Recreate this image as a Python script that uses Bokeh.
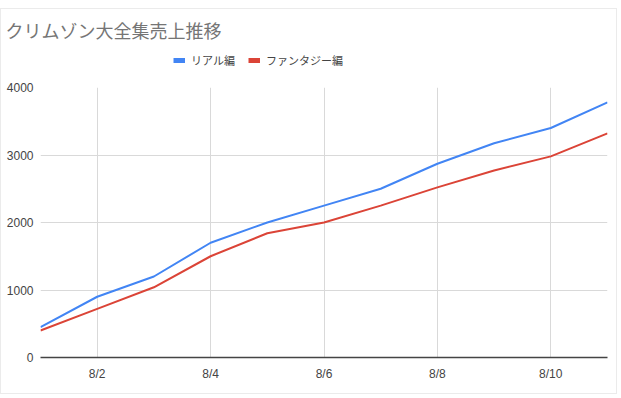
from bokeh.plotting import figure
from bokeh.models import Range1d, FixedTicker, Legend, LegendItem
from bokeh.layouts import column
from bokeh.embed import file_html
from bokeh.resources import INLINE

days = [1, 2, 3, 4, 5, 6, 7, 8, 9, 10, 11]
tick_days = [2, 4, 6, 8, 10]
tick_labels = ["8/2", "8/4", "8/6", "8/8", "8/10"]
y_ticks = [0, 1000, 2000, 3000, 4000]
real = [450, 900, 1200, 1700, 2000, 2250, 2500, 2870, 3175, 3400, 3780]
fantasy = [400, 720, 1040, 1500, 1840, 2000, 2250, 2520, 2770, 2980, 3320]
series_names = ["リアル編", "ファンタジー編"]
title_text = "クリムゾン大全集売上推移"
colors = ["#4285F4", "#DB4437"]

W = 615

# header: title + legend (series lines lie outside this header's y-range, only legend glyphs show)
top = figure(width=W, height=73, output_backend="svg", toolbar_location=None,
             x_range=Range1d(1, 11), y_range=Range1d(-2, -1),
             min_border_left=39, min_border_right=9, min_border_top=37, min_border_bottom=0,
             x_axis_type=None, y_axis_type=None, title=title_text)
top.outline_line_color = None
top.xgrid.visible = False
top.ygrid.visible = False
top.title.text_font = "Noto Sans CJK JP"
top.title.text_font_size = "18px"
top.title.text_font_style = "normal"
top.title.text_color = "#757575"
top.title.align = "left"
top.title.offset = -35
l1 = top.line(days, real, line_color=colors[0], line_width=5)
l2 = top.line(days, fantasy, line_color=colors[1], line_width=5)
legend = Legend(items=[LegendItem(label=series_names[0], renderers=[l1]),
                       LegendItem(label=series_names[1], renderers=[l2])],
                orientation="horizontal", location=(133, 14),
                glyph_width=12, glyph_height=14, label_height=14,
                spacing=13, label_standoff=6,
                label_text_font="Noto Sans CJK JP", label_text_font_size="11px",
                label_text_color="#444444", label_text_baseline="middle",
                border_line_color=None, background_fill_alpha=0,
                padding=0, margin=0)
top.add_layout(legend, "center")

# main chart
p = figure(width=W, height=311, output_backend="svg", toolbar_location=None,
           x_range=Range1d(1, 11), y_range=Range1d(0, 4000),
           min_border_left=39, min_border_right=9, min_border_top=5, min_border_bottom=36)
p.outline_line_color = None
p.xaxis.ticker = FixedTicker(ticks=tick_days)
p.xaxis.major_label_overrides = {d: l for d, l in zip(tick_days, tick_labels)}
p.yaxis.ticker = FixedTicker(ticks=y_ticks)
for ax in (p.xaxis, p.yaxis):
    ax.major_tick_line_color = None
    ax.minor_tick_line_color = None
    ax.major_tick_out = 0
    ax.major_tick_in = 0
    ax.minor_tick_out = 0
    ax.minor_tick_in = 0
    ax.major_label_text_font = "Liberation Sans"
    ax.major_label_text_font_size = "12px"
    ax.major_label_text_color = "#444444"
p.yaxis.axis_line_color = None
p.xaxis.axis_line_color = "#444444"
p.xaxis.axis_line_width = 1.5
p.xaxis.major_label_standoff = 9
p.yaxis.major_label_standoff = 7
p.xgrid.grid_line_color = "#d9d9d9"
p.ygrid.grid_line_color = "#d9d9d9"

p.line(days, real, line_color=colors[0], line_width=2)
p.line(days, fantasy, line_color=colors[1], line_width=2)

layout = column(top, p, spacing=0)
layout.styles = {"border": "1px solid #ebebeb", "margin-top": "8px"}

open("out.html", "w").write(file_html(layout, INLINE))
